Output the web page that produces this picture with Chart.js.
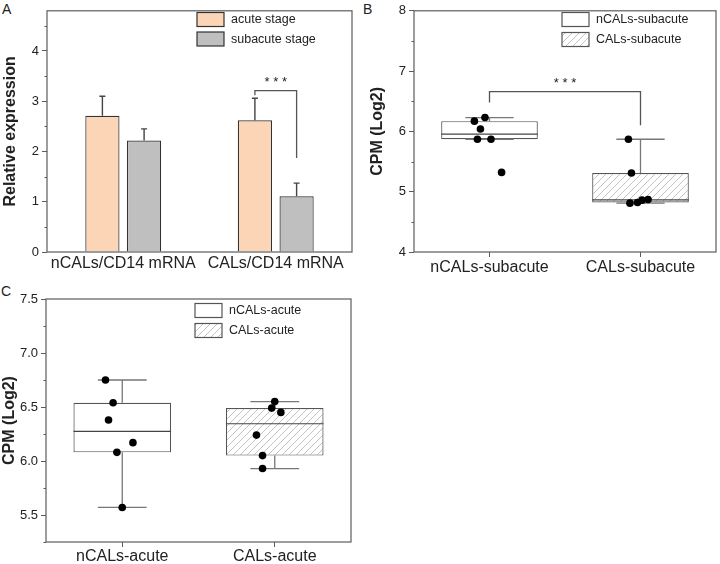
<!DOCTYPE html>
<html>
<head>
<meta charset="utf-8">
<script src="https://cdn.jsdelivr.net/npm/chart.js@4.4.1/dist/chart.umd.min.js"></script>
<style>
  body { margin: 0; background: #fff; width: 720px; height: 564px; overflow: hidden; position: relative; font-family: "Liberation Sans", Arial, sans-serif; }
  canvas { position: absolute; }
  .panel { position: absolute; font-size: 14px; color: #222; line-height: 14px; }
</style>
</head>
<body>
<div class="panel" style="left:2px;top:2px">A</div>
<div class="panel" style="left:363px;top:2px">B</div>
<div class="panel" style="left:1px;top:284px">C</div>
<canvas id="chartA" width="360" height="282" style="left:0;top:0;width:360px;height:282px"></canvas>
<canvas id="chartB" width="360" height="282" style="left:360px;top:0;width:360px;height:282px"></canvas>
<canvas id="chartC" width="360" height="282" style="left:0;top:282px;width:360px;height:282px"></canvas>
<script>
// ---- panel A: bar chart with error bars
const groupsA = ['nCALs/CD14 mRNA', 'CALs/CD14 mRNA'];
const acuteMean = [2.71, 2.62];
const acuteErr = [0.39, 0.44];
const subacuteMean = [2.22, 1.11];
const subacuteErr = [0.23, 0.26];
const ticksA = [0, 1, 2, 3, 4];
const minorA = [0.5, 1.5, 2.5, 3.5, 4.5];
const bracketA = [3.12, 3.21, 1.87];   // left leg bottom, top, right leg bottom

// ---- panel B: box plots, subacute
const groupsB = ['nCALs-subacute', 'CALs-subacute'];
const lowB = [5.87, 4.81];
const q1B = [5.87, 4.82];
const medB = [5.955, 4.865];
const q3B = [6.17, 5.31];
const highB = [6.23, 5.87];
const ptsB0 = [6.17, 6.23, 6.04, 5.87, 5.87, 5.32];
const jitB0 = [-0.10, -0.03, -0.06, -0.08, 0.01, 0.08];
const ptsB1 = [5.87, 5.31, 4.81, 4.82, 4.86, 4.87];
const jitB1 = [-0.08, -0.06, -0.07, -0.02, 0.01, 0.05];
const ticksB = [4, 5, 6, 7, 8];
const minorB = [4.5, 5.5, 6.5, 7.5];
const bracketB = [6.48, 6.66, 6.10];

// ---- panel C: box plots, acute
const groupsC = ['nCALs-acute', 'CALs-acute'];
const lowC = [5.57, 5.93];
const q1C = [6.08, 6.05];
const medC = [6.275, 6.345];
const q3C = [6.54, 6.49];
const highC = [6.75, 6.55];
const ptsC0 = [6.75, 6.54, 6.38, 6.17, 6.08, 5.57];
const jitC0 = [-0.11, -0.06, -0.09, 0.07, -0.035, 0.0];
const ptsC1 = [6.55, 6.49, 6.45, 6.24, 6.05, 5.93];
const jitC1 = [0.0, -0.02, 0.04, -0.12, -0.08, -0.08];
const ticksC = [5.5, 6.0, 6.5, 7.0, 7.5];
const minorC = [5.25, 5.75, 6.25, 6.75, 7.25];

Chart.defaults.font.family = '"Liberation Sans", Arial, sans-serif';
Chart.defaults.color = '#222';
Chart.defaults.animation = false;

const AXIS = '#5c5c5c';

// diagonal hatch used for the CALs boxes
const hatchCanvas = document.createElement('canvas');
hatchCanvas.width = 7; hatchCanvas.height = 7;
const hg = hatchCanvas.getContext('2d');
hg.fillStyle = '#fff'; hg.fillRect(0, 0, 7, 7);
hg.strokeStyle = '#b3b3b3'; hg.lineWidth = 0.8;
hg.beginPath();
hg.moveTo(0, 7); hg.lineTo(7, 0);
hg.moveTo(-2, 2); hg.lineTo(2, -2);
hg.moveTo(5, 9); hg.lineTo(9, 5);
hg.stroke();
const hatch = hg.createPattern(hatchCanvas, 'repeat');

// frame + minor ticks + legend drawn on top of each panel
const framePlugin = {
    id: 'frame',
    afterDraw(chart, args, opts) {
        const ctx = chart.ctx;
        const a = chart.chartArea;
        const y = chart.scales.y;
        ctx.save();
        ctx.strokeStyle = AXIS;
        ctx.lineWidth = 1.2;
        ctx.strokeRect(a.left, a.top, a.right - a.left, a.bottom - a.top);
        ctx.lineWidth = 1;
        ctx.beginPath();
        opts.minor.forEach(v => {
            const py = Math.round(y.getPixelForValue(v)) + 0.5;
            ctx.moveTo(a.left - 2.5, py);
            ctx.lineTo(a.left, py);
        });
        ctx.stroke();
        // legend
        ctx.font = '12.5px "Liberation Sans", Arial, sans-serif';
        ctx.textBaseline = 'middle';
        opts.legend.forEach(item => {
            ctx.fillStyle = item.fill;
            ctx.fillRect(item.x, item.y, 27, 14);
            ctx.strokeStyle = item.stroke;
            ctx.lineWidth = 1.2;
            ctx.strokeRect(item.x, item.y, 27, 14);
            ctx.fillStyle = '#222';
            ctx.fillText(item.text, item.x + 34, item.y + 7.5);
        });
        ctx.restore();
    }
};

// significance bracket with stars
function drawBracket(chart, x1, x2, vals) {
    const ctx = chart.ctx;
    const y = chart.scales.y;
    const yl = y.getPixelForValue(vals[0]);
    const yt = y.getPixelForValue(vals[1]);
    const yr = y.getPixelForValue(vals[2]);
    ctx.save();
    ctx.strokeStyle = '#555';
    ctx.lineWidth = 1.3;
    ctx.beginPath();
    ctx.moveTo(x1, yl); ctx.lineTo(x1, yt); ctx.lineTo(x2, yt); ctx.lineTo(x2, yr);
    ctx.stroke();
    ctx.fillStyle = '#222';
    ctx.font = '13px "Liberation Sans", Arial, sans-serif';
    ctx.textAlign = 'center';
    ctx.textBaseline = 'middle';
    ctx.fillText('* * *', (x1 + x2) / 2, yt - 8);
    ctx.restore();
}

const errorPlugin = {
    id: 'errors',
    afterDatasetsDraw(chart) {
        const ctx = chart.ctx;
        const y = chart.scales.y;
        const sets = [[acuteMean, acuteErr], [subacuteMean, subacuteErr]];
        ctx.save();
        ctx.strokeStyle = '#444';
        ctx.lineWidth = 1.4;
        sets.forEach((s, d) => {
            chart.getDatasetMeta(d).data.forEach((bar, i) => {
                const top = y.getPixelForValue(s[0][i] + s[1][i]);
                ctx.beginPath();
                ctx.moveTo(bar.x, bar.y);
                ctx.lineTo(bar.x, top);
                ctx.moveTo(bar.x - 3, top);
                ctx.lineTo(bar.x + 3, top);
                ctx.stroke();
            });
        });
        const m0 = chart.getDatasetMeta(0).data[1];
        const m1 = chart.getDatasetMeta(1).data[1];
        drawBracket(chart, m0.x, m1.x, bracketA);
        ctx.restore();
    }
};

// whiskers and medians, drawn right after the box dataset (under the points)
const boxPlugin = {
    id: 'boxParts',
    afterDatasetDraw(chart, args, opts) {
        if (args.index !== 0) return;
        const ctx = chart.ctx;
        const y = chart.scales.y;
        const x = chart.scales.x;
        const capHalf = (x.getPixelForValue(1) - x.getPixelForValue(0)) * 0.16;
        ctx.save();
        chart.getDatasetMeta(0).data.forEach((box, i) => {
            const cx = box.x;
            const half = box.width / 2;
            ctx.strokeStyle = '#777';
            ctx.lineWidth = 1.3;
            ctx.beginPath();
            const yq3 = y.getPixelForValue(opts.q3[i]);
            const yq1 = y.getPixelForValue(opts.q1[i]);
            const yhi = y.getPixelForValue(opts.high[i]);
            const ylo = y.getPixelForValue(opts.low[i]);
            ctx.moveTo(cx, yq3); ctx.lineTo(cx, yhi);
            ctx.moveTo(cx - capHalf, yhi); ctx.lineTo(cx + capHalf, yhi);
            ctx.moveTo(cx, yq1); ctx.lineTo(cx, ylo);
            ctx.moveTo(cx - capHalf, ylo); ctx.lineTo(cx + capHalf, ylo);
            ctx.stroke();
            ctx.strokeStyle = '#444';
            ctx.lineWidth = 1.2;
            ctx.beginPath();
            const ym = y.getPixelForValue(opts.med[i]);
            ctx.moveTo(cx - half, ym); ctx.lineTo(cx + half, ym);
            ctx.stroke();
        });
        ctx.restore();
        if (opts.bracket) {
            drawBracket(chart, x.getPixelForValue(0), x.getPixelForValue(1), opts.bracket);
        }
    }
};

function yAxis(min, max, ticks, title, width, titlePad, decimals) {
    return {
        type: 'linear',
        min: min,
        max: max,
        afterBuildTicks: s => { s.ticks = ticks.map(v => ({ value: v })); },
        afterFit: s => { s.width = width; },
        grid: { display: true, drawOnChartArea: false, drawTicks: true, tickLength: 5, color: AXIS, lineWidth: 1 },
        border: { display: false },
        ticks: {
            font: { size: 13 },
            padding: 3,
            color: '#222',
            callback: v => decimals ? Number(v).toFixed(decimals) : v
        },
        title: {
            display: true,
            text: title,
            font: { size: 16, weight: 'bold' },
            color: '#222',
            padding: { top: titlePad, bottom: 0 }
        }
    };
}

function xAxis(height, tickLen, pad) {
    return {
        type: 'category',
        offset: true,
        afterFit: s => { s.height = height; },
        grid: { display: tickLen > 0, drawOnChartArea: false, drawTicks: tickLen > 0, tickLength: tickLen, color: AXIS, offset: false },
        border: { display: false },
        ticks: { font: { size: 16 }, padding: pad, autoSkip: false, maxRotation: 0, minRotation: 0, color: '#222' }
    };
}

function scatterPts(vals, jit, idx) {
    return vals.map((v, k) => ({ x: idx + jit[k], y: v }));
}

// ---- chart A
new Chart(document.getElementById('chartA'), {
    type: 'bar',
    data: {
        labels: groupsA,
        datasets: [
            { label: 'acute stage', data: acuteMean, backgroundColor: '#FBD5B6', borderColor: '#333', borderWidth: 1.2 },
            { label: 'subacute stage', data: subacuteMean, backgroundColor: '#BFBFBF', borderColor: '#333', borderWidth: 1.2 }
        ]
    },
    options: {
        responsive: false,
        categoryPercentage: 0.547,
        barPercentage: 0.82,
        layout: { padding: { top: 7, right: 8, left: 0, bottom: 0 } },
        plugins: {
            legend: { display: false },
            tooltip: { enabled: false },
            frame: {
                minor: minorA,
                legend: [
                    { x: 197, y: 12.5, fill: '#FBD5B6', stroke: '#333', text: 'acute stage' },
                    { x: 197, y: 32, fill: '#BFBFBF', stroke: '#333', text: 'subacute stage' }
                ]
            }
        },
        scales: {
            x: xAxis(30, 0, 1.5),
            y: yAxis(0, 4.8, ticksA, 'Relative expression', 47, 1, 0)
        }
    },
    plugins: [errorPlugin, framePlugin]
});

// ---- box plot charts B and C
function boxChart(id, groups, low, q1, med, q3, high, pts0, jit0, pts1, jit1, ymin, ymax, ticks, minor, opts) {
    return new Chart(document.getElementById(id), {
        type: 'bar',
        data: {
            labels: groups,
            datasets: [
                {
                    type: 'bar',
                    data: [[q1[0], q3[0]], [q1[1], q3[1]]],
                    backgroundColor: ['#fff', hatch],
                    borderColor: '#555',
                    borderWidth: 1.2,
                    borderSkipped: false,
                    grouped: false,
                    categoryPercentage: 1,
                    barPercentage: 0.64,
                    xAxisID: 'x',
                    order: 1
                },
                {
                    type: 'scatter',
                    data: scatterPts(pts0, jit0, 0).concat(scatterPts(pts1, jit1, 1)),
                    backgroundColor: '#000',
                    borderColor: '#000',
                    pointRadius: 3.8,
                    borderWidth: 0,
                    xAxisID: 'x2',
                    order: 0
                }
            ]
        },
        options: {
            responsive: false,
            layout: { padding: opts.padding },
            plugins: {
                legend: { display: false },
                tooltip: { enabled: false },
                boxParts: { low: low, q1: q1, med: med, q3: q3, high: high, bracket: opts.bracket },
                frame: {
                    minor: minor,
                    legend: [
                        { x: opts.legX, y: opts.legY, fill: '#fff', stroke: '#555', text: groups[0] },
                        { x: opts.legX, y: opts.legY + 20, fill: hatch, stroke: '#555', text: groups[1] }
                    ]
                }
            },
            scales: {
                x: xAxis(opts.xHeight, 5, opts.xPad),
                x2: { type: 'linear', display: false, offset: false, min: -0.5, max: 1.5 },
                y: yAxis(ymin, ymax, ticks, 'CPM (Log2)', opts.yWidth, opts.titlePad, opts.decimals)
            }
        },
        plugins: [boxPlugin, framePlugin]
    });
}

boxChart('chartB', groupsB, lowB, q1B, medB, q3B, highB, ptsB0, jitB0, ptsB1, jitB1, 4, 8, ticksB, minorB, {
    padding: { top: 7, right: 3, left: 0, bottom: 0 },
    xHeight: 30, xPad: 1, yWidth: 54, titlePad: 8, decimals: 0,
    legX: 202, legY: 12.5, bracket: bracketB
});

boxChart('chartC', groupsC, lowC, q1C, medC, q3C, highC, ptsC0, jitC0, ptsC1, jitC1, 5.25, 7.5, ticksC, minorC, {
    padding: { top: 17, right: 9, left: 0, bottom: 0 },
    xHeight: 22, xPad: 0, yWidth: 46, titlePad: 0, decimals: 1,
    legX: 195, legY: 21.5, bracket: null
});
</script>
</body>
</html>
